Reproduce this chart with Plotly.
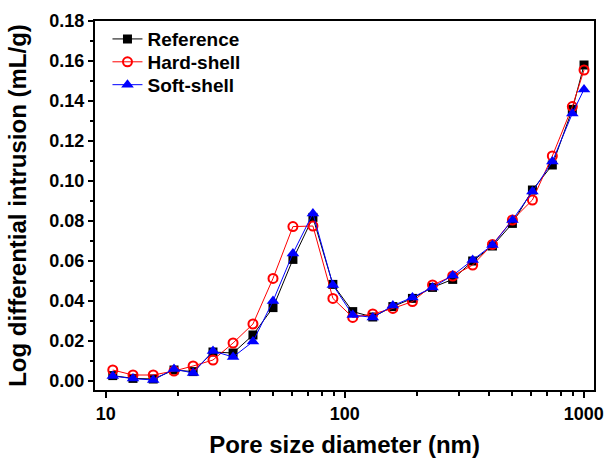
import plotly.graph_objects as go

pore_nm = [10.7, 13.0, 15.8, 19.3, 23.2, 28.1, 34.1, 41.3, 50.1, 60.7, 73.6, 89.2,
           108, 131, 159, 192, 233, 283, 343, 415, 503, 610, 739, 896, 1003]

reference = [0.0027, 0.0013, 0.0010, 0.0055, 0.0047, 0.0145, 0.0140, 0.0230, 0.0367,
             0.0608, 0.0818, 0.0483, 0.0347, 0.0320, 0.0372, 0.0413, 0.0468, 0.0508,
             0.0600, 0.0675, 0.0788, 0.0955, 0.1080, 0.1358, 0.1580]

hard_shell = [0.0055, 0.0030, 0.0030, 0.0050, 0.0075, 0.0105, 0.0190, 0.0285, 0.0513,
              0.0772, 0.0775, 0.0413, 0.0318, 0.0335, 0.0363, 0.0397, 0.0480, 0.0525,
              0.0580, 0.0683, 0.0805, 0.0905, 0.1125, 0.1372, 0.1555]

soft_shell = [0.0025, 0.0012, 0.0005, 0.0060, 0.0040, 0.0150, 0.0120, 0.0197, 0.0400,
              0.0638, 0.0838, 0.0480, 0.0330, 0.0318, 0.0377, 0.0418, 0.0468, 0.0528,
              0.0605, 0.0680, 0.0805, 0.0947, 0.1097, 0.1338, 0.1458]

series_names = ["Reference", "Hard-shell", "Soft-shell"]

FONT = "Liberation Sans, Arial, sans-serif"

fig = go.Figure()
fig.add_trace(go.Scatter(
    x=pore_nm, y=reference, name=series_names[0], mode="lines+markers",
    line=dict(color="black", width=1),
    marker=dict(symbol="square", size=9, color="black"),
    legend="legend",
))
fig.add_trace(go.Scatter(
    x=pore_nm, y=hard_shell, name=series_names[1], mode="lines+markers",
    line=dict(color="#FF0000", width=1),
    marker=dict(symbol="circle-open", size=9, color="#FF0000", line=dict(width=2, color="#FF0000")),
    legend="legend2",
))
fig.add_trace(go.Scatter(
    x=pore_nm, y=soft_shell, name=series_names[2], mode="lines+markers",
    line=dict(color="#0000FF", width=1),
    marker=dict(symbol="triangle-up", size=11, color="#0000FF"),
    legend="legend3",
))

leg_font = dict(family=FONT, size=19, color="black", weight="bold")
def leg(yc):
    return dict(x=0.025, y=yc, xanchor="left", yanchor="middle",
                bgcolor="rgba(0,0,0,0)", borderwidth=0, font=leg_font)

fig.update_layout(
    width=604, height=458,
    margin=dict(l=95, r=10, t=21, b=68, autoexpand=False),
    paper_bgcolor="white", plot_bgcolor="white",
    font=dict(family=FONT, color="black", size=18, weight="bold"),
    showlegend=True,
    legend=leg(0.951),
    legend2=leg(0.889),
    legend3=leg(0.827),
)

fig.update_xaxes(
    type="log", range=[0.955, 3.043], automargin=False,
    tickvals=[10, 100, 1000], ticktext=["10", "100", "1000"],
    ticks="outside", ticklen=6, tickwidth=1.5, tickcolor="black",
    minor=dict(ticks="outside", ticklen=4, tickwidth=1.5, tickcolor="black", dtick="D1"),
    showline=True, linewidth=2, linecolor="black", mirror=True,
    showgrid=False, zeroline=False,
    tickfont=dict(family=FONT, size=18, color="black", weight="bold"),
    title=dict(text="Pore size diameter (nm)", standoff=18,
               font=dict(family=FONT, size=24, color="black", weight="bold")),
)
fig.update_yaxes(
    range=[-0.0045, 0.18], automargin=False,
    tick0=0, dtick=0.02, tickformat=".2f",
    ticks="outside", ticklen=5, tickwidth=1.5, tickcolor="black",
    minor=dict(ticks="outside", ticklen=3, tickwidth=1.5, tickcolor="black", dtick=0.01, tick0=0),
    showline=True, linewidth=2, linecolor="black", mirror=True,
    showgrid=False, zeroline=False,
    tickfont=dict(family=FONT, size=18, color="black", weight="bold"),
    title=dict(text="Log differential intrusion (mL/g)", standoff=16,
               font=dict(family=FONT, size=24, color="black", weight="bold")),
)

fig.write_html("out.html")
